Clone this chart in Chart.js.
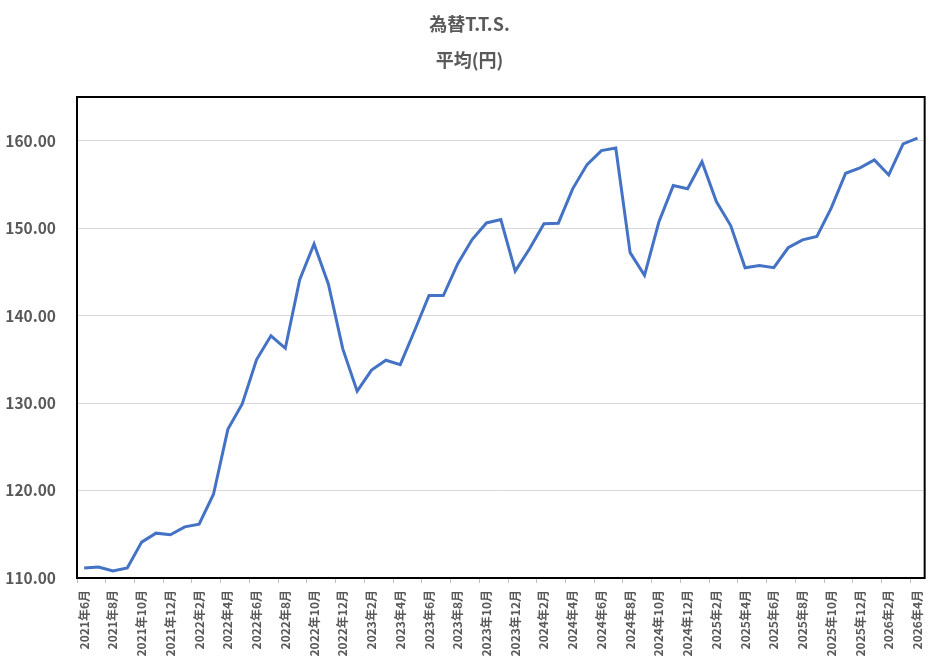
<!DOCTYPE html>
<html>
<head>
<meta charset="utf-8">
<script src="https://cdn.jsdelivr.net/npm/chart.js@4/dist/chart.umd.min.js"></script>
<style>
  html, body { margin: 0; padding: 0; background: #ffffff; }
</style>
</head>
<body>
<canvas id="fx" width="939" height="660"></canvas>
<script>
var months = [
  '2021年6月', '2021年7月', '2021年8月', '2021年9月', '2021年10月', '2021年11月', '2021年12月',
  '2022年1月', '2022年2月', '2022年3月', '2022年4月', '2022年5月', '2022年6月',
  '2022年7月', '2022年8月', '2022年9月', '2022年10月', '2022年11月', '2022年12月',
  '2023年1月', '2023年2月', '2023年3月', '2023年4月', '2023年5月', '2023年6月',
  '2023年7月', '2023年8月', '2023年9月', '2023年10月', '2023年11月', '2023年12月',
  '2024年1月', '2024年2月', '2024年3月', '2024年4月', '2024年5月', '2024年6月',
  '2024年7月', '2024年8月', '2024年9月', '2024年10月', '2024年11月', '2024年12月',
  '2025年1月', '2025年2月', '2025年3月', '2025年4月', '2025年5月', '2025年6月',
  '2025年7月', '2025年8月', '2025年9月', '2025年10月', '2025年11月', '2025年12月',
  '2026年1月', '2026年2月', '2026年3月', '2026年4月'
];

var ttsAverage = [
  111.14, 111.25, 110.80, 111.14, 114.10, 115.13, 114.94,
  115.85, 116.16, 119.58, 127.00, 129.90, 134.98,
  137.70, 136.27, 144.10, 148.20, 143.60, 136.20,
  131.37, 133.77, 134.90, 134.40, 138.30, 142.30,
  142.30, 145.94, 148.70, 150.60, 150.99, 145.10,
  147.65, 150.50, 150.57, 154.50, 157.27, 158.87,
  159.17, 147.20, 144.60, 150.70, 154.87, 154.50,
  157.60, 153.05, 150.30, 145.48, 145.74, 145.48,
  147.76, 148.67, 149.05, 152.33, 156.28, 156.90,
  157.80, 156.09, 159.63, 160.30
];

var yTicks = [110, 120, 130, 140, 150, 160];

var grey = '#595959';
var font = '"Noto Sans CJK JP", "Noto Sans", sans-serif';

// black box round the plot area
var frame = {
  id: 'frame',
  afterDraw: function (chart) {
    var a = chart.chartArea;
    var c = chart.ctx;
    c.save();
    c.strokeStyle = '#000000';
    c.lineWidth = 2;
    c.strokeRect(a.left, a.top, a.right - a.left, a.bottom - a.top);
    c.restore();
  }
};

var ctx = document.getElementById('fx').getContext('2d');

var fxChart = new Chart(ctx, {
  type: 'line',
  data: {
    labels: months,
    datasets: [{
      label: '平均(円)',
      data: ttsAverage,
      borderColor: '#4472C4',
      backgroundColor: '#4472C4',
      borderWidth: 3,
      pointRadius: 0,
      tension: 0,
      fill: false
    }]
  },
  options: {
    responsive: false,
    animation: false,
    layout: { padding: 0 },
    plugins: {
      legend: { display: false },
      tooltip: { enabled: false },
      title: {
        display: true,
        text: ['為替T.T.S.', '平均(円)'],
        color: grey,
        font: { family: font, size: 18, weight: 'bold', lineHeight: 2 },
        padding: { top: 6, bottom: 19 }
      }
    },
    scales: {
      x: {
        offset: true,
        border: { display: false },
        grid: {
          offset: true,
          drawOnChartArea: false,
          drawTicks: true,
          tickLength: 5,
          tickColor: function (c) {
            return c.index % 2 === 0 ? '#bfbfbf' : 'rgba(0,0,0,0)';
          }
        },
        ticks: {
          autoSkip: false,
          maxRotation: 90,
          minRotation: 90,
          padding: 7,
          color: grey,
          font: { family: font, size: 12, weight: 'bold' },
          callback: function (v, i) {
            return i % 2 === 0 ? months[i] : '';
          }
        },
        afterFit: function (s) { s.height = 82; }
      },
      y: {
        min: 110,
        max: 165,
        border: { display: false },
        grid: { color: '#d9d9d9', lineWidth: 1, drawTicks: false },
        afterBuildTicks: function (s) {
          s.ticks = yTicks.map(function (v) { return { value: v }; });
        },
        ticks: {
          padding: 21,
          color: grey,
          font: { family: font, size: 15.5, weight: 'bold' },
          callback: function (v) { return Number(v).toFixed(2); }
        },
        afterFit: function (s) { s.width = 77; }
      },
      // empty strip on the right, keeps the title centred on the page
      yRight: {
        position: 'right',
        min: 110,
        max: 165,
        border: { display: false },
        grid: { drawOnChartArea: false, drawTicks: false },
        ticks: { display: false },
        afterFit: function (s) { s.width = 14; }
      }
    }
  },
  plugins: [frame]
});
</script>
</body>
</html>
